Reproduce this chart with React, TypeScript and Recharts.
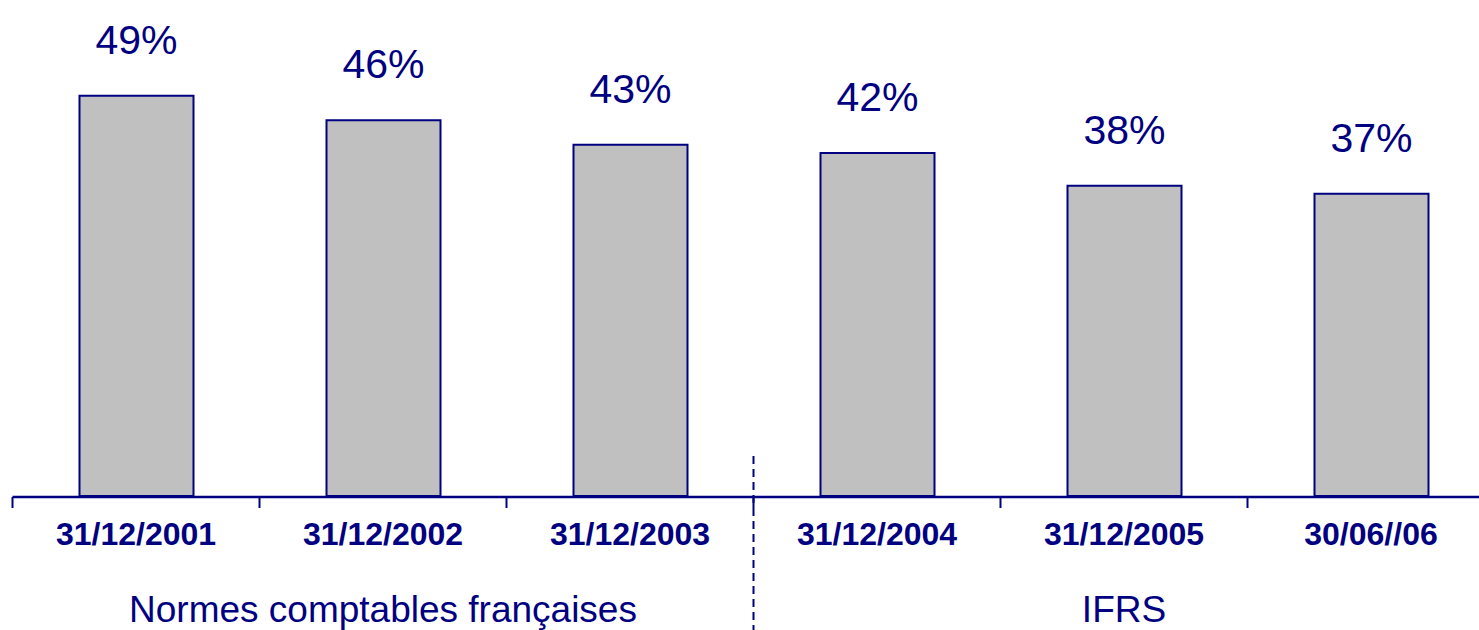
import React from 'react';
import { BarChart, Bar, XAxis, YAxis, LabelList, ReferenceLine } from 'recharts';

const dates = ['31/12/2001', '31/12/2002', '31/12/2003', '31/12/2004', '31/12/2005', '30/06//06'];
const ratios = [49, 46, 43, 42, 38, 37];
const standards = [
  'Normes comptables françaises',
  'Normes comptables françaises',
  'Normes comptables françaises',
  'IFRS',
  'IFRS',
  'IFRS',
];

const navy = '#000080';
const arial = "Arial, 'Liberation Sans', sans-serif";

// slot = category index, used by the numeric helper axes
const data = dates.map((date, i) => ({ date, ratio: ratios[i], standard: standards[i], slot: i }));

// category edges (0..n) and the centre of each accounting-standard group
const edgeTicks = [...dates.map((_, i) => i), dates.length];
const groupNames = standards.filter((s, i) => standards.indexOf(s) === i);
const groupCenters = groupNames.map((g) => {
  const first = standards.indexOf(g);
  const last = standards.lastIndexOf(g);
  return (first + last + 1) / 2;
});
const groupAt = (center: number) => groupNames[groupCenters.indexOf(center)] ?? '';
const dividerX = standards.lastIndexOf(groupNames[0]) + 1;

export default function App() {
  return (
    <div style={{ position: 'absolute', left: 0, top: 0, width: 1479, height: 630, overflow: 'hidden', background: '#fff' }}>
      <BarChart
        width={1500}
        height={630}
        data={data}
        margin={{ top: 6, right: 5.5, left: 12.5, bottom: 131 }}
      >
        <YAxis hide domain={[0, 60]} />
        <XAxis
          xAxisId="edges"
          dataKey="slot"
          type="number"
          domain={[0, dates.length]}
          ticks={edgeTicks}
          tickFormatter={() => ''}
          tickSize={11}
          height={1}
          interval={0}
          allowDataOverflow
          axisLine={{ stroke: navy, strokeWidth: 2.5 }}
          tickLine={{ stroke: navy, strokeWidth: 2 }}
        />
        <XAxis
          dataKey="date"
          height={1}
          interval={0}
          axisLine={false}
          tickLine={false}
          tickSize={0}
          tickMargin={26}
          tick={{ fill: navy, fontSize: 32, fontWeight: 'bold', fontFamily: arial }}
        />
        <XAxis
          xAxisId="groups"
          dataKey="slot"
          type="number"
          domain={[0, dates.length]}
          ticks={groupCenters}
          tickFormatter={groupAt}
          height={1}
          interval={0}
          allowDataOverflow
          axisLine={false}
          tickLine={false}
          tickSize={0}
          tickMargin={98}
          tick={{ fill: navy, fontSize: 37, fontFamily: arial }}
        />
        <ReferenceLine
          xAxisId="edges"
          segment={[{ x: dividerX, y: 4.9 }, { x: dividerX, y: -16.5 }]}
          ifOverflow="visible"
          stroke={navy}
          strokeWidth={2}
          strokeDasharray="8 5"
        />
        <Bar dataKey="ratio" barSize={114} fill="#C0C0C0" stroke={navy} strokeWidth={2} isAnimationActive={false}>
          <LabelList
            dataKey="ratio"
            position="top"
            offset={42}
            formatter={(v: any) => `${v}%`}
            fill={navy}
            fontSize={41}
            fontFamily={arial}
          />
        </Bar>
      </BarChart>
    </div>
  );
}
